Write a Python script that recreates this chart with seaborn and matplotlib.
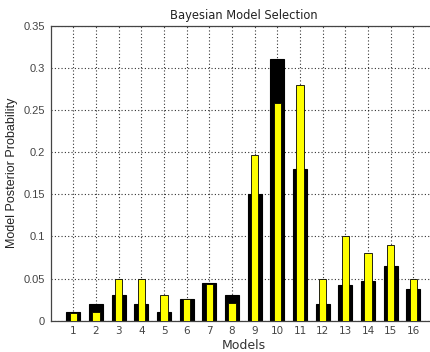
import matplotlib
matplotlib.use("Agg")
import matplotlib.pyplot as plt
import seaborn as sns
import pandas as pd

models = [str(i) for i in range(1, 17)]
black_vals = [0.010, 0.020, 0.030, 0.020, 0.010, 0.026, 0.045, 0.030,
              0.150, 0.310, 0.180, 0.020, 0.042, 0.047, 0.065, 0.038]
yellow_vals = [0.009, 0.010, 0.050, 0.050, 0.030, 0.026, 0.044, 0.021,
               0.197, 0.258, 0.280, 0.050, 0.100, 0.080, 0.090, 0.050]
yticks = [0, 0.05, 0.1, 0.15, 0.2, 0.25, 0.3, 0.35]
ytick_labels = ["0", "0.05", "0.1", "0.15", "0.2", "0.25", "0.3", "0.35"]

df = pd.DataFrame({"Model": models, "black": black_vals, "yellow": yellow_vals})

sns.set_style("white")
plt.rcParams["font.family"] = ["DejaVu Sans"]

fig = plt.figure(figsize=(4.31, 3.52), dpi=100)
ax = fig.add_axes([50.7 / 431, 1 - 320.7 / 352, (436 - 50.7) / 431, (320.7 - 25.7) / 352])

sns.barplot(data=df, x="Model", y="black", color="black", width=0.62,
            edgecolor="black", linewidth=0.8, saturation=1, ax=ax, zorder=2)
sns.barplot(data=df, x="Model", y="yellow", color="#ffff00", width=0.32,
            edgecolor="black", linewidth=0.6, saturation=1, ax=ax, zorder=3)

ax.set_xlim(-1, 16)
ax.set_ylim(0, 0.35)
ax.set_yticks(yticks)
ax.set_yticklabels(ytick_labels, fontfamily="Liberation Sans", fontsize=8)
ax.set_axisbelow(True)
ax.grid(True, linestyle=(0, (1, 2)), color="black", linewidth=0.8, alpha=0.8)
ax.tick_params(axis="both", direction="in", length=3, colors="#444444", width=0.6)
ax.tick_params(axis="x", labelsize=7.5, pad=4)
ax.tick_params(axis="y", pad=4)
for s in ax.spines.values():
    s.set_color("#444444")
    s.set_linewidth(0.9)

ax.set_title("Bayesian Model Selection", fontsize=8.3, color="#222222", pad=5)
ax.set_xlabel("Models", fontsize=9, color="#333333", labelpad=2)
ax.set_ylabel("Model Posterior Probability", fontsize=9, color="#222222",
              fontfamily="Liberation Sans", labelpad=4)

fig.savefig("out.png", dpi=100)
